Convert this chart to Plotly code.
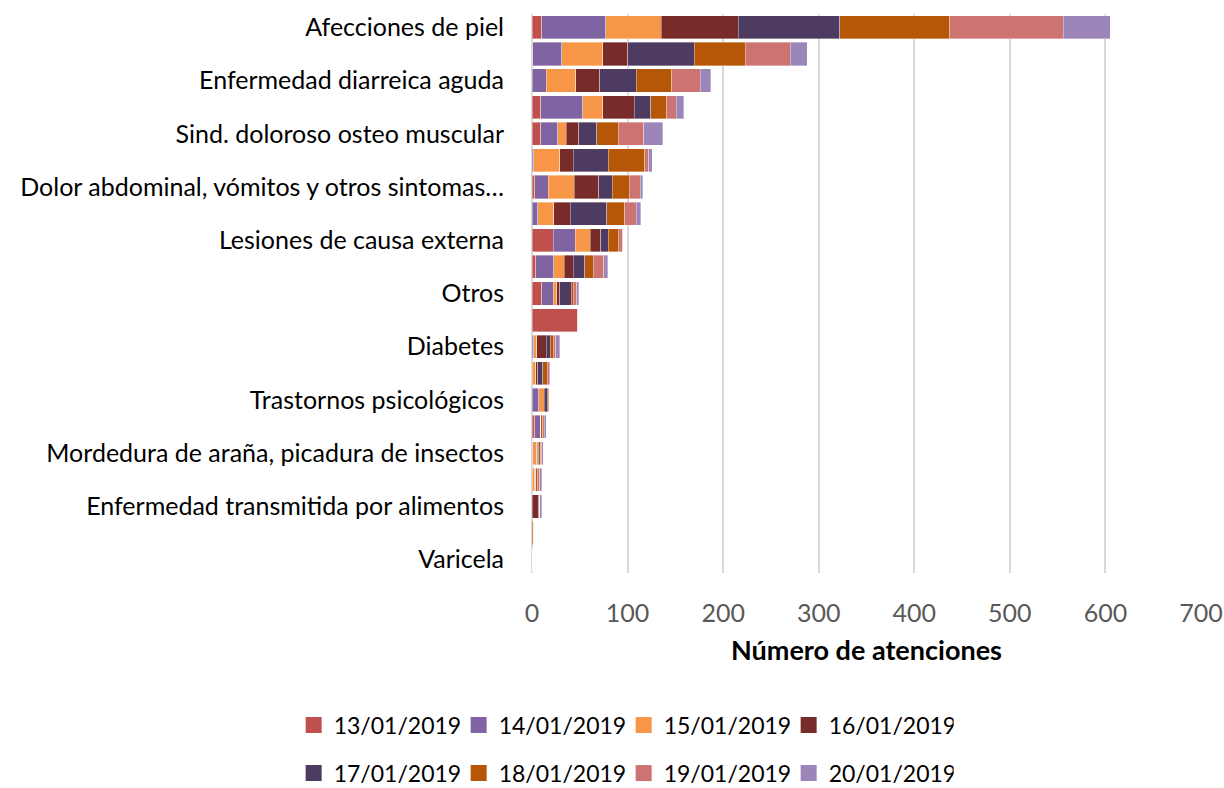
import plotly.graph_objects as go

# 21 filas; solo las filas impares tienen etiqueta visible en el gráfico original
etiquetas = ["Afecciones de piel", "Enfermedad diarreica aguda", "Sind. doloroso osteo muscular",
             "Dolor abdominal, vómitos y otros sintomas…", "Lesiones de causa externa", "Otros",
             "Diabetes", "Trastornos psicológicos", "Mordedura de araña, picadura de insectos",
             "Enfermedad transmitida por alimentos", "Varicela"]
filas = list(range(21))

fechas = ["13/01/2019", "14/01/2019", "15/01/2019", "16/01/2019",
          "17/01/2019", "18/01/2019", "19/01/2019", "20/01/2019"]
colores = ["#C0504D", "#8064A2", "#F79646", "#772C2A",
           "#4D3B62", "#B65708", "#CD7371", "#9C85B8"]

d13 = [10, 1, 0, 9, 9, 0, 3, 0, 22, 4, 10, 48, 0, 0, 0, 3, 0, 0, 0, 0, 0]
d14 = [67, 30, 15, 44, 18, 2, 14, 6, 23, 19, 12, 0, 2, 0, 7, 6, 1, 0, 0, 0, 0]
d15 = [58, 43, 31, 21, 9, 27, 27, 17, 16, 11, 4, 1, 3, 4, 6, 0, 4, 3, 0, 0, 0]
d16 = [81, 26, 25, 33, 13, 14, 26, 17, 11, 9, 3, 0, 10, 2, 0, 0, 1, 1, 7, 0, 0]
d17 = [106, 70, 38, 17, 19, 37, 14, 38, 8, 12, 12, 0, 4, 5, 3, 0, 1, 0, 1, 0, 0]
d18 = [115, 53, 37, 17, 22, 38, 18, 19, 10, 9, 2, 0, 3, 5, 1, 2, 2, 2, 0, 2, 0]
d19 = [119, 47, 30, 10, 27, 4, 11, 12, 5, 11, 4, 0, 3, 2, 1, 2, 1, 2, 0, 0, 0]
d20 = [49, 18, 11, 8, 20, 4, 3, 5, 0, 4, 2, 0, 4, 1, 0, 2, 2, 2, 2, 0, 0]
series = [d13, d14, d15, d16, d17, d18, d19, d20]

fuente = "Lato"

fig = go.Figure()
for fecha, color, valores in zip(fechas, colores, series):
    fig.add_trace(go.Bar(
        y=filas, x=valores, name=fecha, orientation="h", showlegend=False,
        marker=dict(color=color, line=dict(color="rgba(255,255,255,0.6)", width=0.6)),
    ))

# leyenda en dos filas de cuatro (cuadrados más grandes que los de las barras)
for i, (fecha, color) in enumerate(zip(fechas, colores)):
    fig.add_trace(go.Scatter(
        x=[None], y=[None], mode="markers", name=fecha,
        marker=dict(symbol="square", size=17, color=color),
        legend="legend" if i < 4 else "legend2",
    ))

leyenda = dict(
    orientation="h", traceorder="normal",
    x=0.137, xanchor="center", yanchor="middle",
    font=dict(family=fuente, size=23, color="#000000"),
    entrywidth=120, entrywidthmode="pixels", itemsizing="trace",
    bgcolor="rgba(0,0,0,0)",
)

fig.update_layout(
    barmode="stack",
    bargap=0.13,
    width=1224, height=788,
    margin=dict(l=532, r=23, t=14, b=215, autoexpand=False),
    plot_bgcolor="white", paper_bgcolor="white",
    font=dict(family=fuente, size=25, color="#000000"),
    legend=dict(leyenda, y=-0.272),
    legend2=dict(leyenda, y=-0.358),
)

fig.update_xaxes(
    range=[0, 700], dtick=100, automargin=False,
    showgrid=True, gridcolor="#D9D9D9", gridwidth=1.5,
    zeroline=True, zerolinecolor="#D9D9D9", zerolinewidth=1.5,
    showline=False,
    ticks="outside", ticklen=18, tickcolor="rgba(0,0,0,0)",
    tickfont=dict(size=25, color="#595959"),
    title=dict(text="<b>Número de atenciones</b>", font=dict(size=27, color="#000000"), standoff=15),
)

fig.update_yaxes(
    range=[20.5, -0.5], automargin=False,
    tickvals=filas[::2], ticktext=etiquetas,
    showgrid=False, zeroline=False, showline=False,
    ticks="outside", ticklen=22, tickcolor="rgba(0,0,0,0)",
    tickfont=dict(size=25, color="#000000"),
)

# sin el margen por defecto del <body>, para que la figura llene la ventana
fig.write_html("out.html", config={"displayModeBar": False},
               post_script="document.body.style.margin='0';")
